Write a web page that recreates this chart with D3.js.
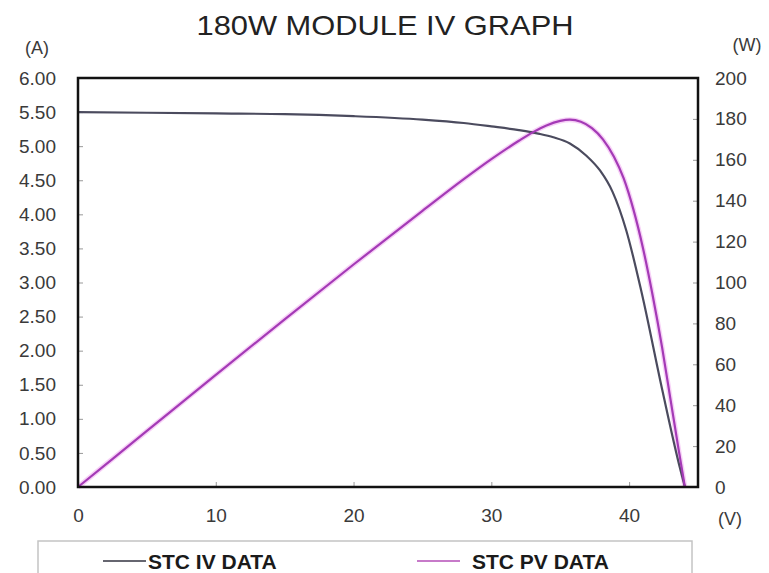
<!DOCTYPE html>
<html>
<head>
<meta charset="utf-8">
<script src="https://cdn.jsdelivr.net/npm/d3@7"></script>
<style>
  body { margin: 0; background: #fff; }
  text { font-family: "Liberation Sans", Arial, sans-serif; }
</style>
</head>
<body>
<div id="chart"></div>
<script>
// values
const ivVolts = [0, 5, 10, 15, 20, 25, 28, 30, 32, 33.5, 34.5, 35.7, 36.9, 37.9, 38.8, 39.8, 40.9, 42.4, 43.7, 44.05];
const ivAmps = [5.50, 5.49, 5.48, 5.47, 5.44, 5.39, 5.34, 5.29, 5.235, 5.18, 5.13, 5.04, 4.86, 4.64, 4.33, 3.76, 2.86, 1.43, 0.27, 0];

const pvVolts = [0, 5, 10, 15, 20, 25, 28, 30, 32, 33, 34, 35, 35.7, 36.5, 37.3, 38.1, 38.9, 39.6, 40.3, 41.0, 41.7, 42.4, 43.0, 43.6, 44.05];
const pvWatts = [0, 27.4, 54.8, 82, 108.8, 135, 150.5, 160.3, 169.3, 173.4, 176.8, 179.0, 179.6, 178.6, 175.5, 170, 161.5, 151, 136, 117, 94, 68, 43, 18, 0];

const voltTicks = [0, 10, 20, 30, 40];
const ampTicks = [0, 0.5, 1, 1.5, 2, 2.5, 3, 3.5, 4, 4.5, 5, 5.5, 6];
const wattTicks = [0, 20, 40, 60, 80, 100, 120, 140, 160, 180, 200];

const legendNames = ['STC IV DATA', 'STC PV DATA'];

const W = 769;
const H = 573;
const margin = { top: 78, right: 71, bottom: 86, left: 78 };
const width = W - margin.left - margin.right;
const height = H - margin.top - margin.bottom;

const svg = d3.select('#chart').append('svg')
  .attr('width', W)
  .attr('height', H);

const x = d3.scaleLinear().domain([0, 45]).range([0, width]);
const yA = d3.scaleLinear().domain([0, 6]).range([height, 0]);
const yW = d3.scaleLinear().domain([0, 200]).range([height, 0]);

// title
svg.append('text')
  .attr('x', 385)
  .attr('y', 35)
  .attr('text-anchor', 'middle')
  .attr('font-size', 28)
  .attr('fill', '#222')
  .attr('textLength', 377)
  .attr('lengthAdjust', 'spacingAndGlyphs')
  .text('180W MODULE IV GRAPH');

const g = svg.append('g')
  .attr('transform', `translate(${margin.left},${margin.top})`);

// axes, ticks drawn inward
const styleAxis = sel => {
  sel.select('.domain').remove();
  sel.selectAll('.tick line').attr('stroke', '#999');
  sel.selectAll('.tick text')
    .attr('fill', '#3a3a3a')
    .attr('font-size', 19)
    .attr('font-family', '"Liberation Sans", Arial, sans-serif');
};

g.append('g')
  .call(d3.axisLeft(yA).tickValues(ampTicks).tickFormat(d3.format('.2f')).tickSize(-5).tickPadding(22))
  .call(styleAxis);

g.append('g')
  .attr('transform', `translate(${width},0)`)
  .call(d3.axisRight(yW).tickValues(wattTicks).tickSize(-5).tickPadding(17))
  .call(styleAxis);

g.append('g')
  .attr('transform', `translate(0,${height})`)
  .call(d3.axisBottom(x).tickValues(voltTicks).tickSize(-5).tickPadding(22))
  .call(styleAxis);

// unit labels
svg.append('text').attr('x', 37).attr('y', 54).attr('text-anchor', 'middle')
  .attr('font-size', 18).attr('fill', '#3a3a3a').text('(A)');
svg.append('text').attr('x', 747).attr('y', 51).attr('text-anchor', 'middle')
  .attr('font-size', 18).attr('fill', '#3a3a3a').text('(W)');
svg.append('text').attr('x', 730).attr('y', 525).attr('text-anchor', 'middle')
  .attr('font-size', 18).attr('fill', '#3a3a3a').text('(V)');

// curves
const ivLine = d3.line()
  .x((d, i) => x(ivVolts[i]))
  .y(d => yA(d))
  .curve(d3.curveMonotoneX);

const pvLine = d3.line()
  .x((d, i) => x(pvVolts[i]))
  .y(d => yW(d))
  .curve(d3.curveMonotoneX);

g.append('path')
  .attr('d', pvLine(pvWatts))
  .attr('fill', 'none')
  .attr('stroke', '#f3bdf3')
  .attr('stroke-width', 5)
  .attr('opacity', 0.7);

g.append('path')
  .attr('d', ivLine(ivAmps))
  .attr('fill', 'none')
  .attr('stroke', '#4b4b5e')
  .attr('stroke-width', 2.2);

g.append('path')
  .attr('d', pvLine(pvWatts))
  .attr('fill', 'none')
  .attr('stroke', '#a43ab6')
  .attr('stroke-width', 2.2);

// frame
g.append('rect')
  .attr('width', width)
  .attr('height', height)
  .attr('fill', 'none')
  .attr('stroke', '#111')
  .attr('stroke-width', 2.5);

// legend
svg.append('rect')
  .attr('x', 38)
  .attr('y', 541)
  .attr('width', 654)
  .attr('height', 60)
  .attr('fill', '#fff')
  .attr('stroke', '#c4c4c4')
  .attr('stroke-width', 1.5);

const legendColors = ['#666670', '#c77ac9'];
const legendX = [103, 417];

legendNames.forEach((name, i) => {
  svg.append('line')
    .attr('x1', legendX[i])
    .attr('x2', legendX[i] + 43)
    .attr('y1', 561)
    .attr('y2', 561)
    .attr('stroke', legendColors[i])
    .attr('stroke-width', 2);
  svg.append('text')
    .attr('x', legendX[i] + (i === 0 ? 45 : 55))
    .attr('y', 569)
    .attr('font-size', 21)
    .attr('font-weight', 'bold')
    .attr('fill', '#1a1a1a')
    .text(name);
});
</script>
</body>
</html>
